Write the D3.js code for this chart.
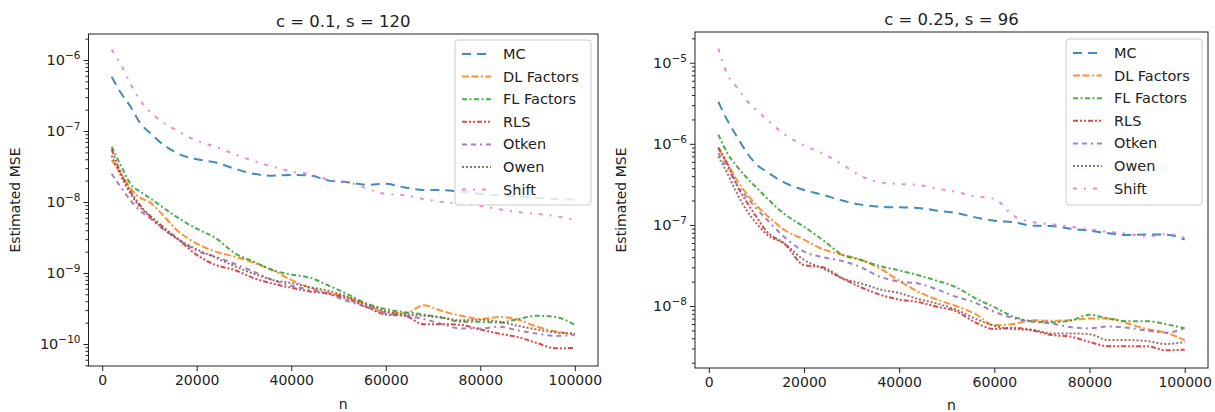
<!DOCTYPE html>
<html>
<head>
<meta charset="utf-8">
<script src="https://cdn.jsdelivr.net/npm/d3@7"></script>
<style>
body { margin: 0; background: #fff; }
svg { font-family: "DejaVu Sans", sans-serif; }
</style>
</head>
<body>
<svg id="chart" width="1215" height="412"></svg>
<script>
// sample sizes
var n = [2000, 4000, 6000, 8000, 10000, 12000, 16000, 20000, 24000, 28000, 32000, 36000, 40000, 44000,
         48000, 52000, 56000, 60000, 64000, 68000, 72000, 76000, 80000, 84000, 88000, 92000, 96000, 100000];
var names = ["MC", "DL Factors", "FL Factors", "RLS", "Otken", "Owen", "Shift"];
var xTicks = [0, 20000, 40000, 60000, 80000, 100000];

// c = 0.1, s = 120
var mc1 = [5.8e-7, 3.4e-7, 2.2e-7, 1.3e-7, 9.5e-8, 7.2e-8, 4.8e-8, 4.0e-8, 3.6e-8, 2.95e-8, 2.5e-8, 2.35e-8, 2.4e-8, 2.35e-8,
           2.0e-8, 1.9e-8, 1.75e-8, 1.8e-8, 1.6e-8, 1.48e-8, 1.47e-8, 1.4e-8, 1.3e-8, 1.25e-8, 1.2e-8, 1.15e-8, 1.1e-8, 1.07e-8];
var dl1 = [3.9e-8, 2.5e-8, 1.55e-8, 1.15e-8, 1.0e-8, 7.5e-9, 3.9e-9, 2.6e-9, 2.0e-9, 1.7e-9, 1.4e-9, 1.1e-9, 8.0e-10, 6.2e-10,
           5.2e-10, 4.5e-10, 3.5e-10, 2.8e-10, 2.7e-10, 3.5e-10, 2.9e-10, 2.5e-10, 2.25e-10, 2.4e-10, 2.2e-10, 1.75e-10, 1.5e-10, 1.4e-10];
var fl1 = [6.0e-8, 3.2e-8, 1.8e-8, 1.4e-8, 1.15e-8, 9.2e-9, 6.0e-9, 4.2e-9, 3.1e-9, 1.9e-9, 1.45e-9, 1.1e-9, 9.5e-10, 8.6e-10,
           6.6e-10, 5.0e-10, 3.7e-10, 3.1e-10, 2.8e-10, 2.6e-10, 2.35e-10, 2.05e-10, 2.05e-10, 2.0e-10, 2.25e-10, 2.5e-10, 2.4e-10, 1.85e-10];
var rls1 = [5.5e-8, 2.5e-8, 1.4e-8, 9.0e-9, 6.5e-9, 5.0e-9, 3.0e-9, 1.8e-9, 1.3e-9, 1.1e-9, 8.5e-10, 7.1e-10, 6.2e-10, 5.5e-10,
            5.1e-10, 4.3e-10, 3.3e-10, 2.6e-10, 2.5e-10, 1.9e-10, 1.9e-10, 1.85e-10, 1.6e-10, 1.4e-10, 1.25e-10, 1.03e-10, 8.7e-11, 8.8e-11];
var otken1 = [2.5e-8, 1.6e-8, 1.05e-8, 7.5e-9, 6.0e-9, 4.6e-9, 3.0e-9, 2.05e-9, 1.7e-9, 1.35e-9, 1.05e-9, 8.0e-10, 6.6e-10, 5.8e-10,
              5.0e-10, 4.0e-10, 3.3e-10, 2.7e-10, 2.5e-10, 2.25e-10, 1.9e-10, 1.65e-10, 1.65e-10, 1.75e-10, 1.55e-10, 1.4e-10, 1.3e-10, 1.35e-10];
var owen1 = [4.5e-8, 2.3e-8, 1.3e-8, 8.5e-9, 6.3e-9, 4.7e-9, 3.0e-9, 2.15e-9, 1.65e-9, 1.25e-9, 9.8e-10, 8.0e-10, 7.2e-10, 6.3e-10,
             5.6e-10, 4.6e-10, 3.6e-10, 2.9e-10, 2.6e-10, 2.5e-10, 2.35e-10, 2.15e-10, 2.2e-10, 2.05e-10, 1.8e-10, 1.6e-10, 1.45e-10, 1.4e-10];
var shift1 = [1.4e-6, 8.5e-7, 4.6e-7, 2.7e-7, 1.9e-7, 1.45e-7, 1.0e-7, 7.3e-8, 6.0e-8, 4.7e-8, 3.8e-8, 3.15e-8, 2.7e-8, 2.45e-8,
              2.05e-8, 1.9e-8, 1.55e-8, 1.3e-8, 1.25e-8, 1.1e-8, 1.0e-8, 9.5e-9, 8.8e-9, 7.9e-9, 7.2e-9, 6.8e-9, 6.3e-9, 5.6e-9];

// c = 0.25, s = 96
var mc2 = [3.3e-6, 1.9e-6, 1.2e-6, 7.8e-7, 5.6e-7, 4.6e-7, 3.3e-7, 2.7e-7, 2.35e-7, 2.0e-7, 1.78e-7, 1.68e-7, 1.65e-7, 1.62e-7,
           1.5e-7, 1.4e-7, 1.24e-7, 1.13e-7, 1.08e-7, 9.8e-8, 9.7e-8, 9.0e-8, 8.5e-8, 7.9e-8, 7.5e-8, 7.6e-8, 7.6e-8, 6.6e-8];
var dl2 = [8.9e-7, 5.6e-7, 3.5e-7, 2.4e-7, 1.75e-7, 1.35e-7, 8.6e-8, 6.6e-8, 5.0e-8, 4.3e-8, 3.7e-8, 2.9e-8, 2.05e-8, 1.5e-8,
           1.2e-8, 1.0e-8, 8.0e-9, 5.8e-9, 6.0e-9, 6.7e-9, 6.6e-9, 6.7e-9, 7.0e-9, 7.0e-9, 6.1e-9, 5.2e-9, 4.7e-9, 3.8e-9];
var fl2 = [1.3e-6, 7.5e-7, 5.2e-7, 3.8e-7, 2.9e-7, 2.2e-7, 1.35e-7, 9.5e-8, 6.5e-8, 4.3e-8, 3.7e-8, 3.1e-8, 2.75e-8, 2.4e-8,
           2.05e-8, 1.7e-8, 1.25e-8, 9.7e-9, 7.4e-9, 6.5e-9, 6.3e-9, 6.6e-9, 7.8e-9, 7.0e-9, 6.5e-9, 6.5e-9, 6.0e-9, 5.3e-9];
var rls2 = [9.0e-7, 5.5e-7, 3.0e-7, 1.9e-7, 1.26e-7, 8.5e-8, 5.8e-8, 3.2e-8, 3.0e-8, 2.2e-8, 1.7e-8, 1.38e-8, 1.2e-8, 1.12e-8,
            9.8e-9, 8.6e-9, 6.3e-9, 5.2e-9, 5.4e-9, 5.0e-9, 4.4e-9, 4.2e-9, 3.6e-9, 3.2e-9, 3.2e-9, 3.2e-9, 2.85e-9, 2.9e-9];
var otken2 = [7.7e-7, 4.9e-7, 3.1e-7, 2.2e-7, 1.6e-7, 1.2e-7, 7.0e-8, 4.7e-8, 4.0e-8, 3.6e-8, 3.0e-8, 2.3e-8, 2.0e-8, 1.9e-8,
              1.6e-8, 1.3e-8, 1.1e-8, 8.5e-9, 7.1e-9, 6.4e-9, 6.1e-9, 5.5e-9, 5.3e-9, 5.6e-9, 5.4e-9, 5.0e-9, 4.7e-9, 5.3e-9];
var owen2 = [7.0e-7, 4.2e-7, 2.4e-7, 1.5e-7, 1.05e-7, 7.8e-8, 5.8e-8, 3.7e-8, 2.9e-8, 2.2e-8, 1.9e-8, 1.6e-8, 1.45e-8, 1.22e-8,
             1.07e-8, 9.0e-9, 7.0e-9, 5.7e-9, 5.2e-9, 5.1e-9, 4.6e-9, 4.6e-9, 4.5e-9, 3.8e-9, 3.8e-9, 3.7e-9, 3.4e-9, 3.6e-9];
var shift2 = [1.5e-5, 7.0e-6, 4.9e-6, 3.4e-6, 2.6e-6, 2.05e-6, 1.3e-6, 9.6e-7, 7.6e-7, 5.6e-7, 4.0e-7, 3.35e-7, 3.2e-7, 3.1e-7,
              2.8e-7, 2.55e-7, 2.25e-7, 2.1e-7, 1.3e-7, 1.08e-7, 1.02e-7, 9.5e-8, 8.8e-8, 8.2e-8, 7.8e-8, 7.2e-8, 7.7e-8, 7.0e-8];

// styles, one per method
var colors = ["#1f77b4", "#ff7f0e", "#2ca02c", "#d62728", "#9467bd", "#8c564b", "#e377c2"];
var dashes = ["9,6", "7,2.5,7,2.5,2,2.5", "5,2.5,2,2.5", "5,2,2,2,2,2", "5,4,5,4,2,4", "2,2", "4,7,2,7"];

var panels = [
    {title: "c = 0.1, s = 120", series: [mc1, dl1, fl1, rls1, otken1, owen1, shift1],
     box: {x0: 88.5, x1: 598, y0: 34, y1: 366}, ylog: [-10.31, -5.634], titleY: 27, nY: 409,
     legend: {x: 455, y: 40, w: 136, h: 165}},
    {title: "c = 0.25, s = 96", series: [mc2, dl2, fl2, rls2, otken2, owen2, shift2],
     box: {x0: 695, x1: 1208, y0: 32, y1: 368}, ylog: [-8.764, -4.621], titleY: 25, nY: 410,
     legend: {x: 1066, y: 39, w: 136, h: 166}}
];

var svg = d3.select('#chart');

panels.forEach(function(p, pi){
    var b = p.box;
    var x = d3.scaleLinear().domain([-2900, 104900]).range([b.x0, b.x1]);
    var y = d3.scaleLog().domain([Math.pow(10, p.ylog[0]), Math.pow(10, p.ylog[1])]).range([b.y1, b.y0]);

    var g = svg.append('g');

    // clip for the lines
    svg.append('clipPath').attr('id', 'clip' + pi)
        .append('rect').attr('x', b.x0).attr('y', b.y0)
        .attr('width', b.x1 - b.x0).attr('height', b.y1 - b.y0);

    // major and minor log ticks
    var majors = [], minors = [];
    for (var d = Math.floor(p.ylog[0]); d <= Math.ceil(p.ylog[1]); d++){
        if (d >= p.ylog[0] && d <= p.ylog[1]) majors.push(d);
        for (var k = 2; k <= 9; k++){
            var lv = d + Math.log10(k);
            if (lv >= p.ylog[0] && lv <= p.ylog[1]) minors.push(k * Math.pow(10, d));
        }
    }

    g.append('g').attr('transform', 'translate(' + b.x0 + ',0)')
        .call(d3.axisLeft(y).tickValues(minors).tickSize(3).tickFormat(''))
        .call(function(a){ a.select('.domain').remove(); });
    g.append('g').attr('transform', 'translate(' + b.x0 + ',0)')
        .call(d3.axisLeft(y).tickValues(majors.map(function(m){ return Math.pow(10, m); })).tickSize(5).tickFormat(''))
        .call(function(a){ a.select('.domain').remove(); });
    g.selectAll('.tick line').attr('stroke', '#222').attr('stroke-width', 1);

    // y tick labels as 10^k
    var lab = g.selectAll('.ylab').data(majors).enter()
        .append('text')
        .attr('class', 'ylab')
        .attr('x', b.x0 - 8)
        .attr('y', function(m){ return y(Math.pow(10, m)) + 5; })
        .attr('text-anchor', 'end')
        .attr('fill', '#222')
        .style('font-size', '14.5px');
    lab.append('tspan').text('10');
    lab.append('tspan').attr('dy', -6).style('font-size', '10.5px')
        .text(function(m){ return '\u2212' + (-m); });

    // x axis
    var xa = g.append('g').attr('transform', 'translate(0,' + b.y1 + ')')
        .call(d3.axisBottom(x).tickValues(xTicks).tickSize(5).tickPadding(4).tickFormat(d3.format('d')));
    xa.select('.domain').remove();
    xa.selectAll('.tick line').attr('stroke', '#222');
    xa.selectAll('text').attr('fill', '#222').style('font-size', '14px')
        .style('font-family', '"DejaVu Sans", sans-serif');

    // lines
    var line = d3.line()
        .x(function(d, i){ return x(n[i]); })
        .y(function(d){ return y(d); })
        .curve(d3.curveMonotoneX);

    g.append('g').attr('clip-path', 'url(#clip' + pi + ')')
        .selectAll('path').data(p.series).enter()
        .append('path')
        .attr('d', line)
        .attr('fill', 'none')
        .attr('stroke', function(d, i){ return colors[i]; })
        .attr('stroke-width', 2)
        .attr('stroke-opacity', 0.85)
        .attr('stroke-dasharray', function(d, i){ return dashes[i]; });

    // frame
    g.append('rect').attr('x', b.x0).attr('y', b.y0)
        .attr('width', b.x1 - b.x0).attr('height', b.y1 - b.y0)
        .attr('fill', 'none').attr('stroke', '#222').attr('stroke-width', 1);

    // title and axis labels
    g.append('text').attr('x', (b.x0 + b.x1) / 2).attr('y', p.titleY)
        .attr('text-anchor', 'middle').attr('fill', '#222').style('font-size', '16.5px')
        .text(p.title);
    g.append('text').attr('x', (b.x0 + b.x1) / 2).attr('y', p.nY)
        .attr('text-anchor', 'middle').attr('fill', '#222').style('font-size', '14px')
        .text('n');
    g.append('text')
        .attr('transform', 'translate(' + (b.x0 - 69) + ',' + ((b.y0 + b.y1) / 2) + ') rotate(-90)')
        .attr('text-anchor', 'middle').attr('fill', '#222').style('font-size', '14px')
        .text('Estimated MSE');

    // legend
    var L = p.legend;
    var lg = g.append('g');
    lg.append('rect').attr('x', L.x).attr('y', L.y).attr('width', L.w).attr('height', L.h)
        .attr('rx', 3).attr('fill', '#fff').attr('fill-opacity', 0.8)
        .attr('stroke', '#cccccc').attr('stroke-width', 1);
    var items = lg.selectAll('.item').data(names).enter()
        .append('g').attr('class', 'item')
        .attr('transform', function(d, i){ return 'translate(' + L.x + ',' + (L.y + 14 + i * 22.6) + ')'; });
    items.append('line').attr('x1', 7).attr('x2', 36).attr('y1', 0).attr('y2', 0)
        .attr('stroke', function(d, i){ return colors[i]; })
        .attr('stroke-width', 2)
        .attr('stroke-opacity', 0.85)
        .attr('stroke-dasharray', function(d, i){ return dashes[i]; });
    items.append('text').attr('x', 48).attr('y', 5)
        .attr('fill', '#222').style('font-size', '14.5px')
        .text(function(d){ return d; });
});
</script>
</body>
</html>
